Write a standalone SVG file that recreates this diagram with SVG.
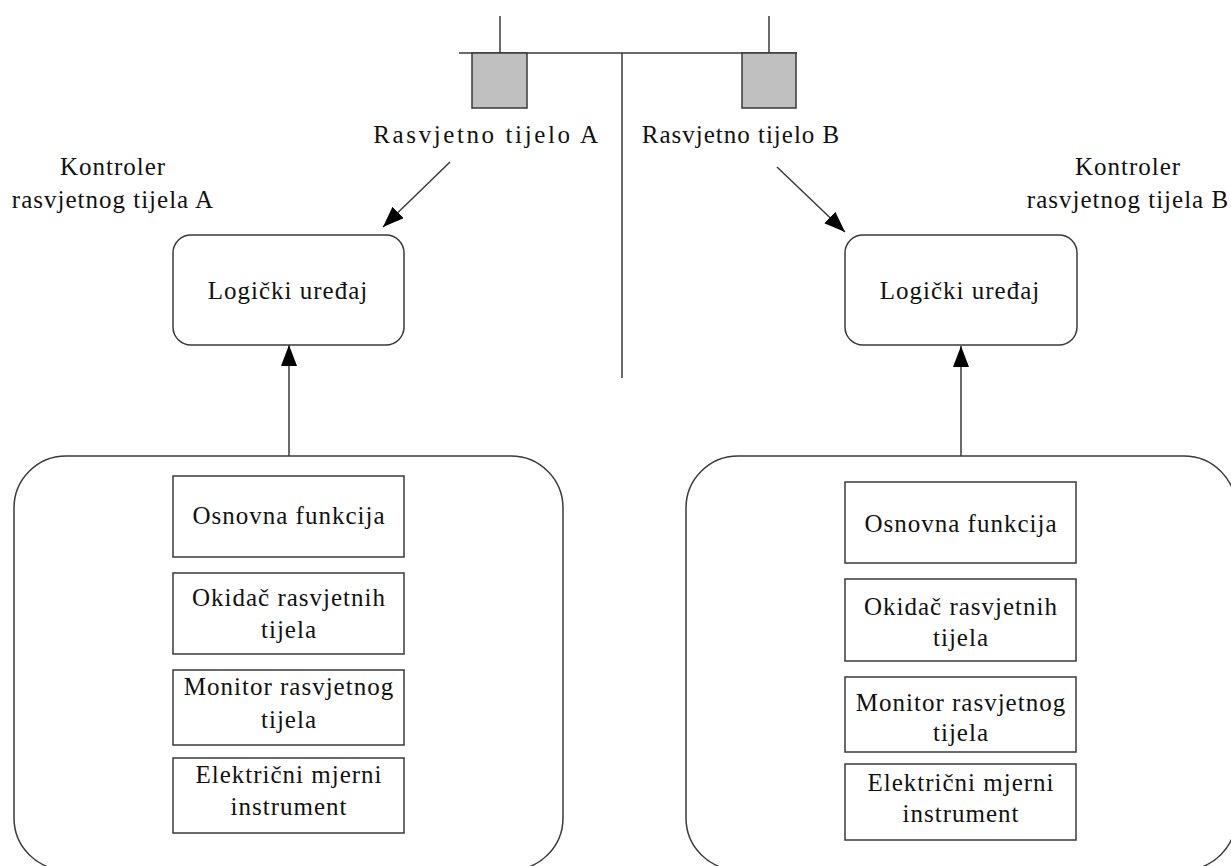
<svg xmlns="http://www.w3.org/2000/svg" width="1231" height="866" viewBox="0 0 1231 866">
<style>
.ln{stroke:#3a3a3a;stroke-width:1.5;fill:none}
.bx{stroke:#3a3a3a;stroke-width:1.5;fill:#fff}
.lamp{stroke:#3a3a3a;stroke-width:1.5;fill:#c0c0c0}
</style>
<defs>
<marker id="ah" markerUnits="userSpaceOnUse" markerWidth="24" markerHeight="18" refX="21" refY="8" orient="auto">
<path d="M0,0 L21,8 L0,16 Z" fill="#000"/>
</marker>
</defs>
<rect width="1231" height="866" fill="#fff"/>
<g id="pole">
<line class="ln" x1="459" y1="53" x2="797" y2="53"/>
<line class="ln" x1="622" y1="53" x2="622" y2="378"/>
<line class="ln" x1="500" y1="16" x2="500" y2="53"/>
<line class="ln" x1="769" y1="16" x2="769" y2="53"/>
</g>
<g font-family="'Liberation Serif', 'Times New Roman', Times, serif" font-size="25" fill="#111" text-anchor="middle" letter-spacing="1">
<g id="lampA">
<rect class="lamp" x="472" y="53" width="55" height="55"/>
<text x="487" y="143" letter-spacing="2.6">Rasvjetno tijelo A</text>
</g>
<g id="lampB">
<rect class="lamp" x="742" y="53" width="54" height="55"/>
<text x="741" y="143">Rasvjetno tijelo B</text>
</g>
<g id="labelA">
<text x="113" y="175">Kontroler</text>
<text x="113" y="208">rasvjetnog tijela A</text>
</g>
<g id="labelB">
<text x="1128" y="175">Kontroler</text>
<text x="1128" y="208">rasvjetnog tijela B</text>
</g>
<g id="logicA">
<rect class="bx" x="173" y="235" width="231" height="110" rx="18"/>
<text x="288" y="299">Logički uređaj</text>
</g>
<g id="logicB">
<rect class="bx" x="845" y="235" width="232" height="110" rx="18"/>
<text x="960" y="299">Logički uređaj</text>
</g>
<g id="controllerA">
<rect class="bx" x="14" y="456" width="549" height="414" rx="52"/>
<rect class="bx" x="173" y="476" width="231" height="81"/>
<text x="289" y="524">Osnovna funkcija</text>
<rect class="bx" x="173" y="573" width="231" height="81"/>
<text x="289" y="606">Okidač rasvjetnih</text>
<text x="289" y="638">tijela</text>
<rect class="bx" x="173" y="670" width="231" height="75"/>
<text x="289" y="695">Monitor rasvjetnog</text>
<text x="289" y="728">tijela</text>
<rect class="bx" x="173" y="758" width="231" height="75"/>
<text x="289" y="783">Električni mjerni</text>
<text x="289" y="815">instrument</text>
</g>
<g id="controllerB">
<rect class="bx" x="686" y="456" width="550" height="414" rx="52"/>
<rect class="bx" x="845" y="482" width="231" height="81"/>
<text x="961" y="532">Osnovna funkcija</text>
<rect class="bx" x="845" y="579" width="231" height="82"/>
<text x="961" y="615">Okidač rasvjetnih</text>
<text x="961" y="646">tijela</text>
<rect class="bx" x="845" y="677" width="231" height="75"/>
<text x="961" y="711">Monitor rasvjetnog</text>
<text x="961" y="741">tijela</text>
<rect class="bx" x="845" y="764" width="231" height="76"/>
<text x="961" y="791">Električni mjerni</text>
<text x="961" y="822">instrument</text>
</g>
</g>
<g id="connectors">
<line class="ln" x1="289" y1="456" x2="289" y2="345" marker-end="url(#ah)"/>
<line class="ln" x1="961" y1="456" x2="961" y2="346" marker-end="url(#ah)"/>
<line class="ln" x1="450" y1="162" x2="383" y2="227" marker-end="url(#ah)"/>
<line class="ln" x1="777" y1="167" x2="845" y2="232" marker-end="url(#ah)"/>
</g>
</svg>
